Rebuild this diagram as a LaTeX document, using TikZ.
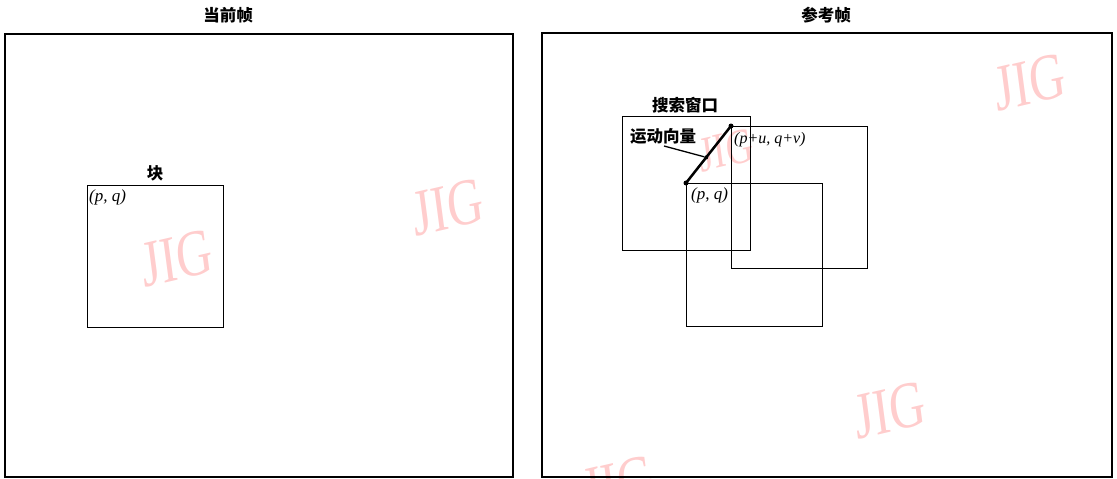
\documentclass[tikz,border=0pt]{standalone}
\usepackage{fontspec}
\usetikzlibrary{calc}
\setmainfont{Liberation Serif}
\newfontfamily\cjk{Noto Sans CJK SC}
\definecolor{wmpink}{RGB}{255,205,205}
\tikzset{
  frame/.style={draw=black, line width=1.5pt},
  boxn/.style={draw=black, line width=0.9pt, inner sep=0pt, outer sep=0pt, anchor=north west},
  cjklabel/.style={font=\cjk\bfseries\fontsize{16.5}{16.5}\selectfont, inner sep=0pt},
  mathlabel/.style={font=\itshape\fontsize{17}{17}\selectfont, inner sep=0pt, anchor=west},
  wm/.style={text=wmpink, font=\fontsize{66}{66}\selectfont, xscale=0.75, rotate=10, inner sep=0pt},
  dotn/.style={circle, fill=black, inner sep=0pt, minimum size=5pt},
}
\begin{document}
\begin{tikzpicture}[x=1pt, y=-1pt]
\useasboundingbox (0,0) rectangle (1117,479);
% watermarks
\begin{scope}
\clip (0,0) rectangle (1117,479);
\node[wm] (wm1) at (177,258) {JIG};
\node[wm] (wm2) at (448,207) {JIG};
\node[wm] (wm3) at (1030,82) {JIG};
\node[wm] (wm4) at (890,410) {JIG};
\node[wm] (wm5) at (618,484) {JIG};
\node[wm, font=\fontsize{50}{50}\selectfont] (wm6) at (726,150) {JIG};
\end{scope}
% frames
\coordinate (lf1) at (5,34);
\coordinate (lf2) at (513,477);
\coordinate (rf1) at (542,33);
\coordinate (rf2) at (1112,477);
\draw[frame] (lf1) rectangle (lf2);
\draw[frame] (rf1) rectangle (rf2);
\node[cjklabel] (t1) at (228,15) {当前帧};
\node[cjklabel] (t2) at (826,15) {参考帧};
% current frame block
\node[boxn, minimum width=136pt, minimum height=142pt] (blk) at (87,185) {};
\node[cjklabel] (blklab) at (155,173) {块};
\node[mathlabel] (pq1) at (89,197) {(p, q)};
% reference frame
\node[boxn, minimum width=128pt, minimum height=134pt] (sw) at (622,116) {};
\node[boxn, minimum width=136pt, minimum height=143pt] (blk2) at (686,183) {};
\node[boxn, minimum width=136pt, minimum height=142pt] (disp) at (731,126) {};
\node[cjklabel] (swlab) at (685,105) {搜索窗口};
\node[mathlabel] (pq2) at (691,195) {(p, q)};
\node[mathlabel, font=\itshape\fontsize{16}{16}\selectfont] (pquv) at (734,140) {(p+u, q+v)};
% motion vector
\draw[line width=2.5pt] (blk2.north west) -- (disp.north west);
\node[dotn] (d1) at (blk2.north west) {};
\node[dotn] (d2) at (disp.north west) {};
\coordinate (mid) at ($(blk2.north west)!0.45!(disp.north west)$);
\node[dotn, minimum size=4pt] (d3) at (mid) {};
\node[cjklabel] (mvlab) at (663,136) {运动向量};
\coordinate (ptr) at (664,146);
\draw[line width=1.3pt] (ptr) -- (d3);
\end{tikzpicture}
\end{document}
